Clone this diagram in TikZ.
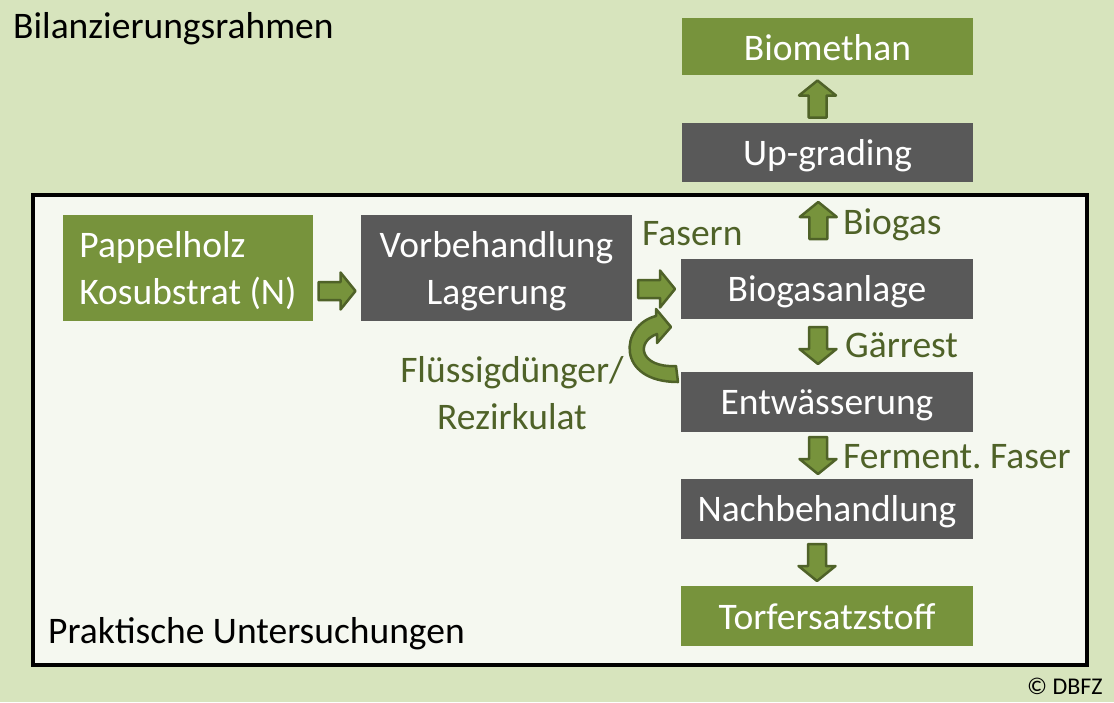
\documentclass[tikz,border=0pt]{standalone}
\usepackage{fontspec}
\setmainfont{Carlito}
\frenchspacing
\usetikzlibrary{calc}
\definecolor{bgg}{HTML}{D7E4BD}
\definecolor{innerbg}{HTML}{F5F8F0}
\definecolor{boxgreen}{HTML}{77933C}
\definecolor{boxgray}{HTML}{595959}
\definecolor{txtgreen}{HTML}{4F6228}
\def\sst{\vrule width0pt height32pt depth5pt\relax}
\newcommand\blkarrow[2]{%
  \filldraw[blkstyle, shift={(#1)}, rotate=#2]
    (-18.5,-9) -- (3.5,-9) -- (3.5,-18.5) -- (18.5,0) -- (3.5,18.5) -- (3.5,9) -- (-18.5,9) -- cycle;}
\tikzset{
  bigfont/.style={font=\fontsize{37.5}{47}\selectfont},
  anybox/.style={bigfont, text=white, inner sep=0pt, minimum height=60pt, align=center},
  gbox/.style={anybox, fill=boxgreen},
  dbox/.style={anybox, fill=boxgray},
  lbl/.style={bigfont, text=txtgreen, inner sep=0pt, anchor=base west},
  blkstyle/.style={draw=txtgreen, fill=boxgreen, line width=2.5pt, line join=round}
}
\begin{document}
\begin{tikzpicture}[x=1pt,y=-1pt]
\fill[bgg] (0,0) rectangle (1114,702);
\useasboundingbox (0,0) rectangle (1114,702);
\draw[line width=4pt, fill=innerbg] (33,195) rectangle (1087,665);

\node[lbl, text=black] (title) at (13,38) {Bilanzierungsrahmen};
\node[lbl, text=black] (prak) at (48,643) {Praktische Untersuchungen};
\node[lbl, text=black, font=\fontsize{24}{28}\selectfont] (copy) at (1027,694) {© DBFZ};

\node[gbox, minimum width=291pt, minimum height=57pt] (biom) at (827.5,46.5) {\sst Biomethan};
\node[dbox, minimum width=291pt, minimum height=59pt] (upg) at (827.5,152.5) {\sst Up-grading};
\node[gbox, minimum width=250pt, minimum height=106pt, align=left] (pap) at (188,268) {\sst Pappelholz\\\sst Kosubstrat (N)};
\node[dbox, minimum width=271pt, minimum height=106pt] (vor) at (496.5,268) {\sst Vorbehandlung\\\sst Lagerung};
\node[dbox, minimum width=292pt] (bga) at (827,289) {\sst Biogasanlage};
\node[dbox, minimum width=292pt] (ent) at (827,402) {\sst Entwässerung};
\node[dbox, minimum width=292pt] (nach) at (827,509) {\sst Nachbehandlung};
\node[gbox, minimum width=292pt] (torf) at (827,616) {\sst Torfersatzstoff};

% block arrows between the boxes
\coordinate (c1) at ($(upg.north)!0.5!(biom.south)+(-10,0)$);
\coordinate (c2) at ($(upg.south)!0.5!(bga.north)+(-9,0)$);
\coordinate (c3) at ($(bga.south)!0.5!(ent.north)+(-9,0)$);
\coordinate (c4) at ($(ent.south)!0.5!(nach.north)+(-9,0)$);
\coordinate (c5) at ($(nach.south)!0.5!(torf.north)+(-10,0)$);
\coordinate (c6) at ($(pap.east)!0.5!(vor.west)+(0,23)$);
\coordinate (c7) at ($(vor.east|-bga.west)!0.5!(bga.west)$);
\blkarrow{c1}{90}
\blkarrow{c2}{90}
\blkarrow{c3}{-90}
\blkarrow{c4}{-90}
\blkarrow{c5}{-90}
\blkarrow{c6}{0}
\blkarrow{c7}{0}

% curved arrow from Entwässerung back
\filldraw[blkstyle]
  (678,382) -- (676,366)
  .. controls (640,368) and (635,342) .. (657,334)
  -- (657,343) -- (671,327) -- (656,309) -- (656,316)
  .. controls (620,325) and (615,382) .. (678,382) -- cycle;

% labels
\node[lbl] (lfas) at (642,245) {Fasern};
\node[lbl] (lbio) at (843,234) {Biogas};
\node[lbl] (lgar) at (845,357) {Gärrest};
\node[lbl] (lfer) at (843,468) {Ferment. Faser};
\node[bigfont, text=txtgreen, inner sep=0pt, align=center] (lflu) at (512,392.5) {\sst Flüssigdünger/\\\sst Rezirkulat};
\end{tikzpicture}
\end{document}
